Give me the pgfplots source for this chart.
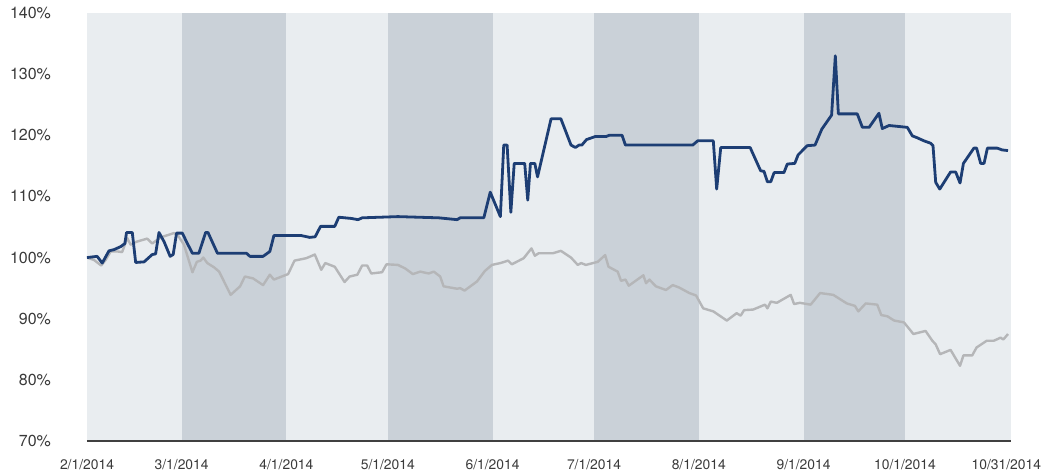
\documentclass[border=0pt]{standalone}
\usepackage{fontspec}
\setmainfont{TeX Gyre Heros}
\usepackage{pgfplots}
\pgfplotsset{compat=1.18}
\definecolor{bglight}{HTML}{E9EDF0}
\definecolor{bgdark}{HTML}{CAD1D8}
\definecolor{navy}{HTML}{1D3E74}
\definecolor{lgray}{HTML}{B5B6B8}
\definecolor{txt}{HTML}{3A3A3A}
\begin{document}
\begin{tikzpicture}
\begin{axis}[
  name=ax,
  scale only axis,
  width=692.8pt, height=321pt,
  xmin=0, xmax=273.3, ymin=70, ymax=140,
  axis background/.style={fill=bglight},
  axis on top,
  axis x line*=bottom, axis y line*=left,
  x axis line style={-, draw=black!75, line width=1pt},
  y axis line style={draw=none},
  major tick length=0pt,
  xtick={0,28,59,89,120,150,181,212,242,272},
  xticklabels={2/1/2014,3/1/2014,4/1/2014,5/1/2014,6/1/2014,7/1/2014,8/1/2014,9/1/2014,10/1/2014,10/31/2014},
  ytick={70,80,90,100,110,120,130,140},
  /pgf/number format/assume math mode=true,
  yticklabel={\pgfmathprintnumber{\tick}\%},
  yticklabel style={font=\fontsize{12}{14}\selectfont, text=txt, xshift=-23.5pt},
  xticklabel style={font=\fontsize{10.4}{12}\selectfont, text=txt, yshift=-10.5pt},
  clip=true,
]
% month bands
\addplot[draw=none, fill=bgdark] coordinates {(28,70) (28,140) (59,140) (59,70)} -- cycle;
\addplot[draw=none, fill=bgdark] coordinates {(89,70) (89,140) (120,140) (120,70)} -- cycle;
\addplot[draw=none, fill=bgdark] coordinates {(150,70) (150,140) (181,140) (181,70)} -- cycle;
\addplot[draw=none, fill=bgdark] coordinates {(212,70) (212,140) (242,140) (242,70)} -- cycle;

% benchmark (gray)
\addplot[lgray, line width=1.8pt, line join=round] coordinates {
(0,100) (2.1,99.6) (4.2,98.7) (5.5,99.6) (7.0,101.0) (9.0,101.0) (10.4,100.9) (11.9,103.2)
(12.9,102.1) (14.7,102.6) (17.8,103.1) (19.3,102.3) (21.8,103.3) (25.7,104.0) (26.7,103.8)
(28.7,102.1) (31.2,97.6) (32.5,99.3) (33.6,99.5) (34.4,100.0) (35.6,99.1) (37.6,98.4)
(39.1,97.7) (42.5,93.9) (45.3,95.3) (46.7,96.9) (49.1,96.6) (52.1,95.5) (54.1,97.2)
(55.3,96.4) (59.5,97.3) (61.4,99.5) (64.9,99.9) (67.4,100.5) (69.3,98.0) (70.5,99.1)
(73.3,98.5) (76.2,96.0) (77.7,96.9) (80.0,97.2) (81.4,98.7) (82.9,98.7) (84.1,97.4)
(87.3,97.6) (88.6,98.9) (92.0,98.8) (94.2,98.2) (96.4,97.3) (98.6,97.7) (101.1,97.4)
(102.6,97.7) (104.5,96.9) (105.5,95.3) (109.5,94.9) (110.4,95.0) (111.7,94.6) (115.4,96.1)
(117.7,97.8) (119.8,98.8) (122.3,99.1) (124.6,99.5) (125.7,98.9) (129.2,99.9) (131.5,101.5)
(132.5,100.3) (133.6,100.7) (137.8,100.7) (140.2,101.1) (143.2,100.0) (145.2,98.8) (146.2,99.1)
(147.6,98.8) (151.1,99.3) (153.3,100.4) (154.3,98.5) (157.0,97.7) (158.0,96.2) (159.3,96.4)
(160.3,95.4) (164.6,97.1) (165.4,95.8) (166.4,96.4) (168.3,95.3) (171.3,94.7) (173.3,95.5)
(175.2,95.1) (178.2,94.2) (180.2,93.8) (182.3,91.7) (185.3,91.2) (189.3,89.7) (192.2,90.9)
(193.4,90.5) (194.4,91.4) (197.1,91.5) (200.6,92.3) (201.3,91.7) (202.3,92.8) (204.1,92.6)
(208.2,93.9) (209.2,92.4) (210.9,92.6) (214.1,92.3) (216.9,94.2) (220.8,93.9) (224.8,92.5)
(227.2,92.1) (228.2,91.2) (230.4,92.5) (233.8,92.3) (235.0,90.6) (236.8,90.4) (238.8,89.7)
(241.7,89.4) (244.5,87.5) (248.1,88.0) (250.1,86.4) (251.1,85.8) (252.4,84.2) (255.5,84.9)
(257.0,83.5) (258.3,82.3) (259.3,84.0) (261.9,84.0) (263.2,85.3) (266.2,86.4) (268.3,86.4)
(270.3,86.9) (271.1,86.6) (272.5,87.5)
};

% portfolio (navy)
\addplot[navy, line width=2.1pt, line join=round] coordinates {
(0,100) (3.0,100.2) (4.5,99.1) (6.5,101.1) (8.0,101.3) (10.0,101.8) (11.2,102.3) (11.7,104.1)
(13.4,104.1) (14.4,99.2) (16.9,99.3) (18.3,100.0) (19.3,100.5) (20.3,100.6) (21.3,104.1)
(22.8,102.6) (24.6,100.2) (25.5,100.5) (26.5,104.0) (28.2,104.0) (29.7,102.3) (31.2,100.7)
(33.1,100.7) (35.1,104.1) (35.8,104.1) (38.6,100.7) (47.2,100.7) (48.2,100.2) (52.1,100.2)
(54.1,101.0) (55.3,103.6) (63.4,103.6) (65.9,103.3) (67.5,103.4) (69.1,105.1) (73.3,105.1)
(74.5,106.6) (78.2,106.4) (80.2,106.2) (81.4,106.5) (92.0,106.7) (104.1,106.5) (109.5,106.2)
(110.4,106.5) (117.4,106.5) (119.3,110.7) (122.3,106.7) (123.3,118.4) (124.3,118.4) (125.4,107.4)
(126.4,115.4) (129.5,115.4) (130.4,109.4) (131.2,115.4) (132.5,115.4) (133.3,113.2) (137.3,122.7)
(140.2,122.7) (143.2,118.4) (144.5,118.0) (145.6,118.4) (146.4,118.4) (147.8,119.3) (150.4,119.8)
(153.6,119.8) (154.5,120.0) (158.3,120.0) (159.3,118.4) (179.2,118.4) (180.7,119.1) (185.3,119.1)
(186.3,111.2) (187.5,118.0) (196.2,118.0) (199.3,114.2) (200.3,114.1) (201.3,112.4) (202.3,112.4)
(203.3,113.9) (206.2,113.9) (207.2,115.3) (209.4,115.4) (210.4,116.8) (213.1,118.3) (215.4,118.4)
(217.4,121.0) (220.3,123.3) (221.4,133.0) (222.3,123.5) (227.9,123.5) (229.4,121.3) (231.4,121.3)
(234.3,123.6) (235.3,121.1) (237.3,121.6) (242.7,121.3) (244.2,119.9) (245.6,119.6) (247.6,119.1)
(249.6,118.7) (250.3,118.3) (251.1,112.3) (252.3,111.2) (255.5,114.0) (257.0,114.0) (258.3,112.2)
(259.3,115.4) (262.4,117.9) (263.2,117.9) (264.4,115.4) (265.4,115.4) (266.4,117.9) (269.3,117.9)
(270.8,117.6) (272.5,117.5)
};
\end{axis}
\pgfresetboundingbox
\path (ax.south west) ++(-65.25pt,-24.75pt) rectangle ++(786.75pt,355.5pt);
\end{tikzpicture}
\end{document}
